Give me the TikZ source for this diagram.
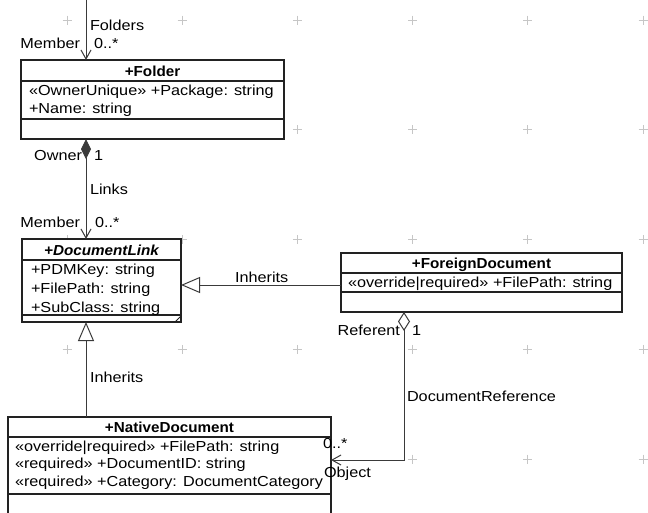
\documentclass[tikz,border=0pt]{standalone}
\usepackage{fontspec}
\setmainfont{Liberation Sans}[FakeStretch=1.12]
\newfontfamily\titlefont{Liberation Sans}[FakeStretch=1.05]
\usetikzlibrary{arrows.meta}

\definecolor{gridgray}{HTML}{C6C6C6}
\definecolor{ink}{HTML}{222222}
\definecolor{wire}{HTML}{3A3A3A}

\newcommand\umlfont{\fontsize{14.5}{17}\selectfont}

\tikzset{
  classbox/.style={rectangle, draw=ink, line width=1.2pt, fill=white,
                   inner sep=0pt, outer sep=0pt},
  sepline/.style={draw=ink, line width=1.1pt},
  conn/.style={draw=wire, line width=1pt},
  lbl/.style={inner sep=0pt, outer sep=0pt, anchor=base west, font=\umlfont},
  lblr/.style={lbl, anchor=base east},
  ttl/.style={inner sep=0pt, outer sep=0pt, anchor=base, font=\umlfont\titlefont\bfseries},
  openhead/.style={-{Straight Barb[length=9pt, width=10pt]}},
  inherit/.style={-{Triangle[length=19pt, width=16pt, fill=white]}},
}

\begin{document}
\begin{tikzpicture}[x=1pt, y=-1pt]
\clip (0,0) rectangle (648,512);
\fill[white] (0,0) rectangle (648,512);

% drawing grid
\foreach \gx in {67,182.2,297.4,412.6,527.8,643}
  \foreach \gy in {20,129.8,239.6,349.4,459.2}
    \draw[gridgray, line width=0.8pt]
      (\gx-4.5,\gy) -- (\gx+4.5,\gy) (\gx,\gy-4.5) -- (\gx,\gy+4.5);

% ---------- classes ----------
% Folder
\node[classbox, minimum width=263pt, minimum height=79pt] (folder) at (152.5,99.5) {};
\draw[sepline] (folder.west |- 0,81) -- (folder.east |- 0,81);
\draw[sepline] (folder.west |- 0,119) -- (folder.east |- 0,119);
\node[ttl] (folderT) at (152.5,76.5) {+Folder};
\node[lbl] (folderA1) at (29,95.5) {«OwnerUnique» +Package: string};
\node[lbl] (folderA2) at (29,113.8) {+Name: string};

% DocumentLink (abstract)
\node[classbox, minimum width=159pt, minimum height=83pt] (doclink) at (101.5,280.5) {};
\draw[sepline] (doclink.west |- 0,260) -- (doclink.east |- 0,260);
\draw[sepline] (doclink.west |- 0,315) -- (doclink.east |- 0,315);
\draw[sepline, line width=0.8pt] ([xshift=-6pt]doclink.south east) -- ([yshift=6pt]doclink.south east);
\node[ttl, font=\umlfont\titlefont\bfseries\itshape] (doclinkT) at (101.5,255.5) {+DocumentLink};
\node[lbl] (doclinkA1) at (31,274.8) {+PDMKey: string};
\node[lbl] (doclinkA2) at (31,293.3) {+FilePath: string};
\node[lbl] (doclinkA3) at (31,312.2) {+SubClass: string};

% ForeignDocument
\node[classbox, minimum width=281pt, minimum height=59pt] (foreign) at (481.5,282.5) {};
\draw[sepline] (foreign.west |- 0,273) -- (foreign.east |- 0,273);
\draw[sepline] (foreign.west |- 0,292) -- (foreign.east |- 0,292);
\node[ttl] (foreignT) at (481.5,268) {+ForeignDocument};
\node[lbl] (foreignA1) at (348,287.3) {«override|required» +FilePath: string};

% NativeDocument
\node[classbox, minimum width=323pt, minimum height=113pt] (native) at (169.5,473.5) {};
\draw[sepline] (native.west |- 0,437) -- (native.east |- 0,437);
\draw[sepline] (native.west |- 0,494) -- (native.east |- 0,494);
\node[ttl] (nativeT) at (169.5,432.5) {+NativeDocument};
\node[lbl] (nativeA1) at (15,451.3) {«override|required» +FilePath: string};
\node[lbl] (nativeA2) at (15,468.8) {«required» +DocumentID: string};
\node[lbl] (nativeA3) at (15,486.3) {«required» +Category: DocumentCategory};

% ---------- connectors ----------
\coordinate (stem) at (86,0);
\coordinate (inhy) at (0,285);
\coordinate (refcorner) at (404,460);

% Folders
\draw[conn, openhead] (stem) -- (stem |- folder.north);
\node[lbl] (foldersL) at (90,30.2) {Folders};
\node[lblr] (memberA) at (80,48.2) {Member};
\node[lbl] (multA) at (94,48.2) {0..*};

% Links (composition)
\draw[conn, {Diamond[length=20pt, width=10pt]}-{Straight Barb[length=9pt, width=10pt]}]
  (stem |- folder.south) -- (stem |- doclink.north);
\node[lblr] (ownerL) at (82,160.2) {Owner};
\node[lbl] (ownerM) at (94,160.2) {1};
\node[lbl] (linksL) at (90,194.5) {Links};
\node[lblr] (memberB) at (80,227.2) {Member};
\node[lbl] (multB) at (95,227.2) {0..*};

% ForeignDocument inherits DocumentLink
\draw[conn, inherit] (foreign.west |- inhy) -- (doclink.east |- inhy);
\node[lbl] (inhA) at (235,282.2) {Inherits};

% NativeDocument inherits DocumentLink
\draw[conn, inherit] (stem |- native.north) -- (stem |- doclink.south);
\node[lbl] (inhB) at (90,382.5) {Inherits};

% DocumentReference (aggregation)
\draw[conn, {Diamond[length=19pt, width=12pt, fill=white]}-{Straight Barb[length=9pt, width=10pt]}]
  (refcorner |- foreign.south) -- (refcorner) -- (refcorner -| native.east);
\node[lblr] (referentL) at (400,335.5) {Referent};
\node[lbl] (referentM) at (412,335.5) {1};
\node[lbl] (docrefL) at (407,401.5) {DocumentReference};
\node[lbl] (objectM) at (323,448.5) {0..*};
\node[lbl] (objectL) at (324,477.5) {Object};

\end{tikzpicture}
\end{document}
